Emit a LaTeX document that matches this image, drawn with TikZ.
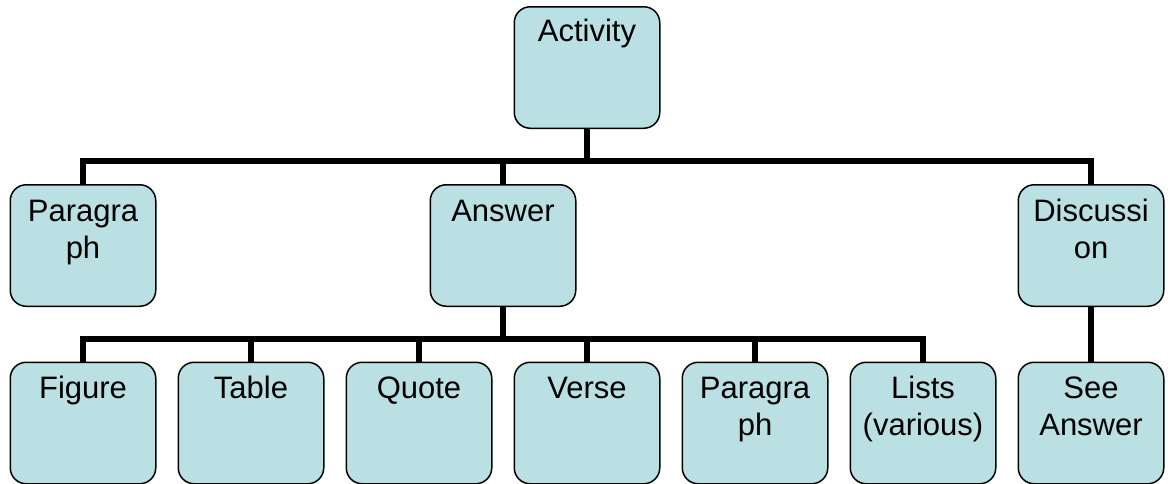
\documentclass[tikz,border=0pt]{standalone}
\usepackage{fontspec}
\setmainfont{Liberation Sans}
\definecolor{boxfill}{RGB}{187,224,227}
\tikzset{
  box/.style={draw=black, line width=1.5pt, fill=boxfill, rounded corners=16pt,
    minimum width=144pt, minimum height=120pt, inner sep=0pt},
  txt/.style={anchor=base, inner sep=0pt},
  conn/.style={draw=black, line width=6.5pt}
}
\newcommand{\boxtext}[1]{\parbox[t]{150pt}{\centering\fontsize{31}{37}\selectfont #1}}
\begin{document}
\begin{tikzpicture}[x=1pt,y=-1pt]
\useasboundingbox (0,0) rectangle (1168,483);
% connectors first
\coordinate (bus1) at (587,161);
\coordinate (bus2) at (503,339);
% nodes
\node[box] (act) at (587,67.5) {};
\node[box] (para) at (83,245.5) {};
\node[box] (ans) at (503,245.5) {};
\node[box] (disc) at (1091,245.5) {};
\node[box] (fig) at (83,423) {};
\node[box] (tab) at (251,423) {};
\node[box] (quo) at (419,423) {};
\node[box] (ver) at (587,423) {};
\node[box] (par2) at (755,423) {};
\node[box] (lis) at (923,423) {};
\node[box] (see) at (1091,423) {};
\begin{scope}[on background layer/.style={}]
\end{scope}
\draw[conn] (act.south) -- (bus1);
\draw[conn] (para.north) |- (bus1) -| (disc.north);
\draw[conn] (bus1) -| (ans.north);
\draw[conn] (ans.south) -- (bus2);
\draw[conn] (fig.north) |- (bus2) -| (lis.north);
\draw[conn] (bus2) -| (tab.north);
\draw[conn] (bus2) -| (quo.north);
\draw[conn] (bus2) -| (ver.north);
\draw[conn] (bus2) -| (par2.north);
\draw[conn] (disc.south) -- (see.north);
% redraw boxes on top
\foreach \n in {act,para,ans,disc,fig,tab,quo,ver,par2,lis,see}{
  \draw[line width=1.5pt, fill=boxfill, rounded corners=16pt] (\n.north west) rectangle (\n.south east);
}
\node[txt] (tact) at ([yshift=-35pt]act.north) {\boxtext{Activity}};
\node[txt] (tpara) at ([yshift=-37pt]para.north) {\boxtext{Paragra\\ph}};
\node[txt] (tans) at ([yshift=-37pt]ans.north) {\boxtext{Answer}};
\node[txt] (tdisc) at ([yshift=-37pt]disc.north) {\boxtext{Discussi\\on}};
\node[txt] (tfig) at ([yshift=-36pt]fig.north) {\boxtext{Figure}};
\node[txt] (ttab) at ([yshift=-36pt]tab.north) {\boxtext{Table}};
\node[txt] (tquo) at ([yshift=-36pt]quo.north) {\boxtext{Quote}};
\node[txt] (tver) at ([yshift=-36pt]ver.north) {\boxtext{Verse}};
\node[txt] (tpar2) at ([yshift=-36pt]par2.north) {\boxtext{Paragra\\ph}};
\node[txt] (tlis) at ([yshift=-36pt]lis.north) {\boxtext{Lists\\(various)}};
\node[txt] (tsee) at ([yshift=-36pt]see.north) {\boxtext{See\\Answer}};
\end{tikzpicture}
\end{document}
